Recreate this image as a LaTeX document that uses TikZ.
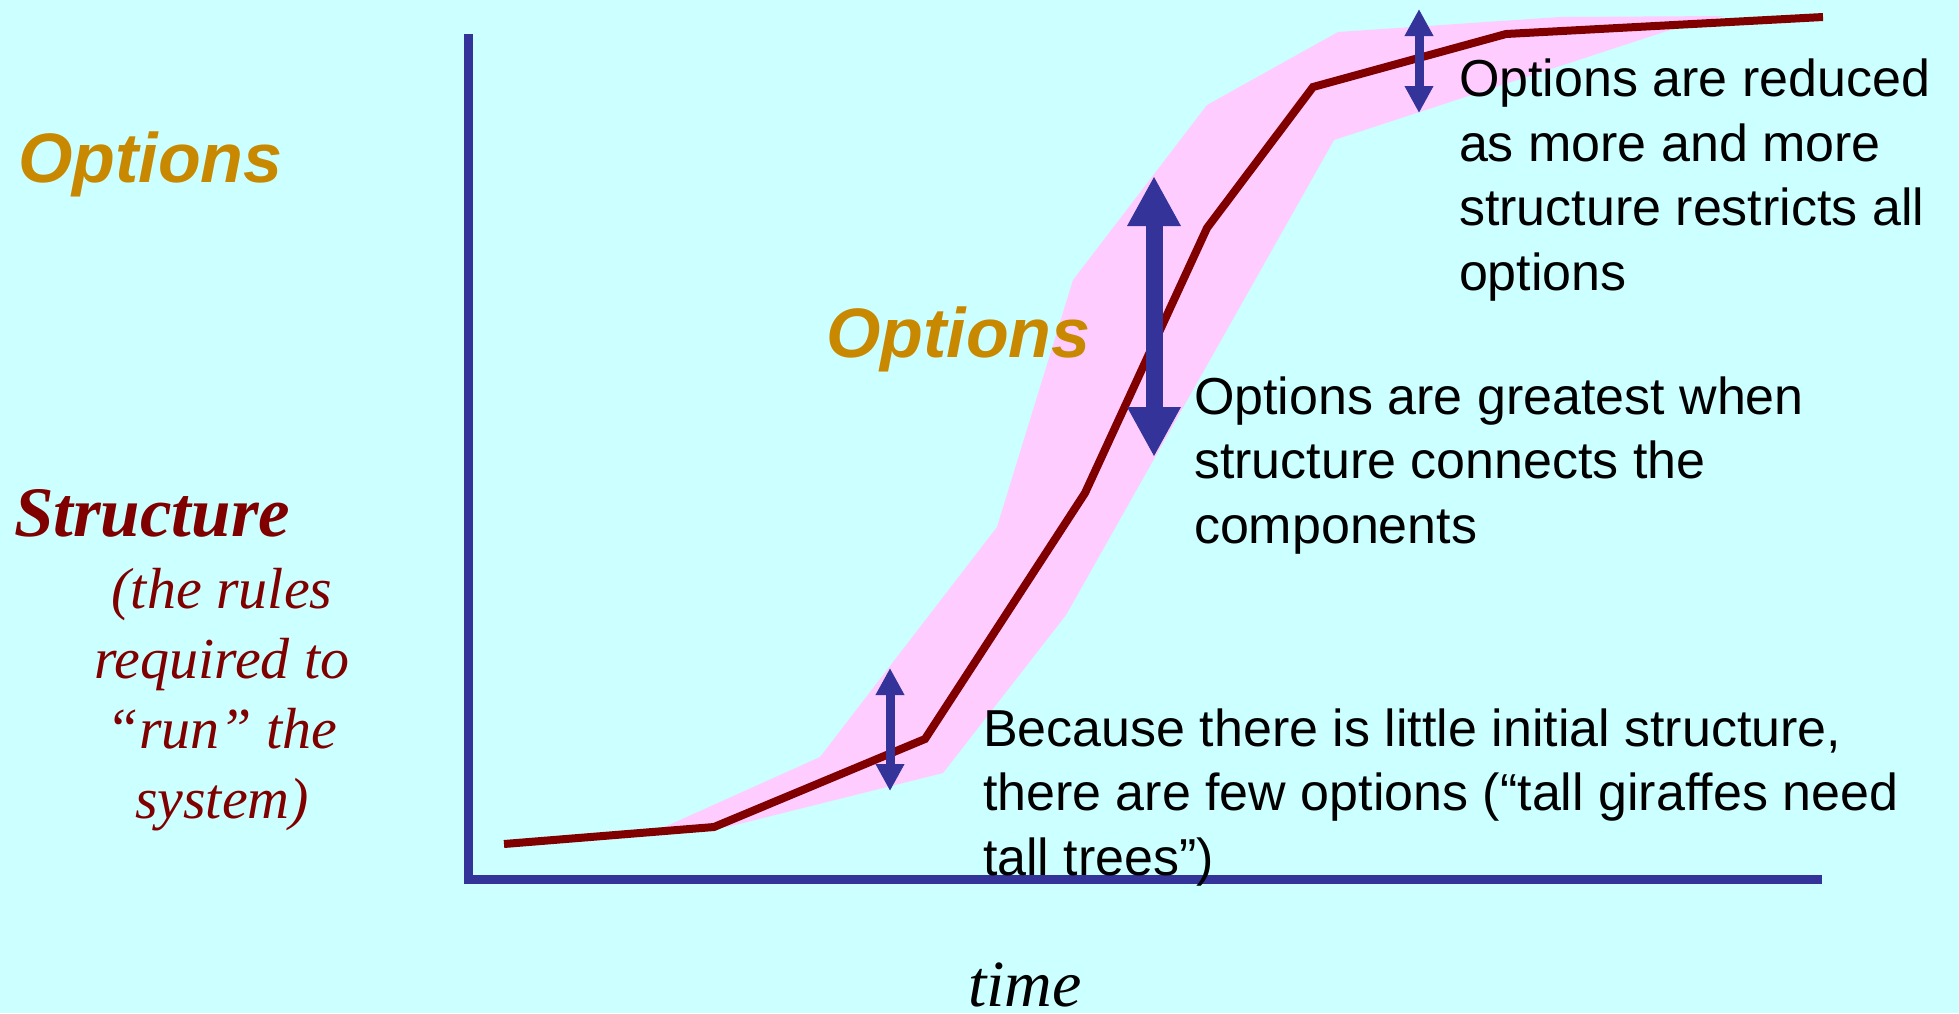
\documentclass[tikz,border=0pt]{standalone}
\usepackage{fontspec}
\setmainfont{Liberation Serif}
\newfontfamily\helv{Liberation Sans}
\usetikzlibrary{arrows.meta}

\definecolor{bgcyan}{RGB}{204,255,255}
\definecolor{bandpink}{RGB}{255,204,255}
\definecolor{axisblue}{RGB}{51,51,153}
\definecolor{curvered}{RGB}{128,0,0}
\definecolor{optgold}{RGB}{200,136,0}

\begin{document}
\begin{tikzpicture}[x=1pt, y=-1pt,
    axis/.style={draw=axisblue, line width=9pt},
    growth/.style={draw=curvered, line width=8pt},
    bigarrow/.style={axisblue, line width=17pt, {Triangle[length=50pt,width=50pt]}-{Triangle[length=50pt,width=50pt]}},
    smallarrow/.style={axisblue, line width=9pt, {Triangle[length=27pt,width=27pt]}-{Triangle[length=27pt,width=27pt]}},
    every node/.style={inner sep=0pt, outer sep=0pt},
    optlabel/.style={font=\helv\bfseries\itshape\fontsize{70}{84}\selectfont, text=optgold, anchor=base west},
    note/.style={font=\helv\fontsize{52}{64.5}\selectfont, align=left, anchor=base west}
]

\useasboundingbox (0,0) rectangle (1959,1013);
\fill[bgcyan] (0,0) rectangle (1959,1013);

% band of options round the curve
\fill[bandpink] (660,829) -- (820,757) -- (997,527) -- (1073,280) -- (1207,105)
    -- (1338,32) -- (1560,17) -- (1725,16) -- (1670,30) -- (1334,140)
    -- (1066,615) -- (943,773) -- (727,827) -- cycle;

% axes
\coordinate (yTop) at (468,34);
\coordinate (xEnd) at (1822,879);
\draw[axis] (yTop) |- (xEnd);

% structure curve
\draw[growth] (504,844) -- (714,827) -- (925,739) -- (1085,493) -- (1207,228)
    -- (1313,87) -- (1506,34) -- (1823,17);

% option arrows
\coordinate (lowTop) at (890,668);
\coordinate (lowBot) at (890,791);
\coordinate (midTop) at (1154,176);
\coordinate (midBot) at (1154,457);
\coordinate (highTop) at (1419,9);
\coordinate (highBot) at (1419,113);
\draw[smallarrow] (lowTop) -- (lowBot);
\draw[bigarrow] (midTop) -- (midBot);
\draw[smallarrow] (highTop) -- (highBot);

% labels (multi-line ones sit on their last baseline)
\node[optlabel] (optLeft) at (18,182) {Options};
\node[optlabel] (optMid) at (826,357) {Options};
\node[anchor=base west, text=curvered, font=\bfseries\itshape\fontsize{71}{84}\selectfont] (structure) at (14,536) {Structure};
\node[anchor=base, align=center, text=curvered, font=\itshape\fontsize{58}{70}\selectfont] (rules) at (222,818)
    {(the rules\\required to\\“run” the\\system)};
\node[anchor=base, font=\itshape\fontsize{66}{80}\selectfont] (time) at (1025,1006) {time};

\node[note] (reduced) at (1459,290) {Options are reduced\\as more and more\\structure restricts all\\options};
\node[note] (greatest) at (1194,543) {Options are greatest when\\structure connects the\\components};
\node[note] (little) at (983,875) {Because there is little initial structure,\\there are few options (“tall giraffes need\\tall trees”)};

\end{tikzpicture}
\end{document}
